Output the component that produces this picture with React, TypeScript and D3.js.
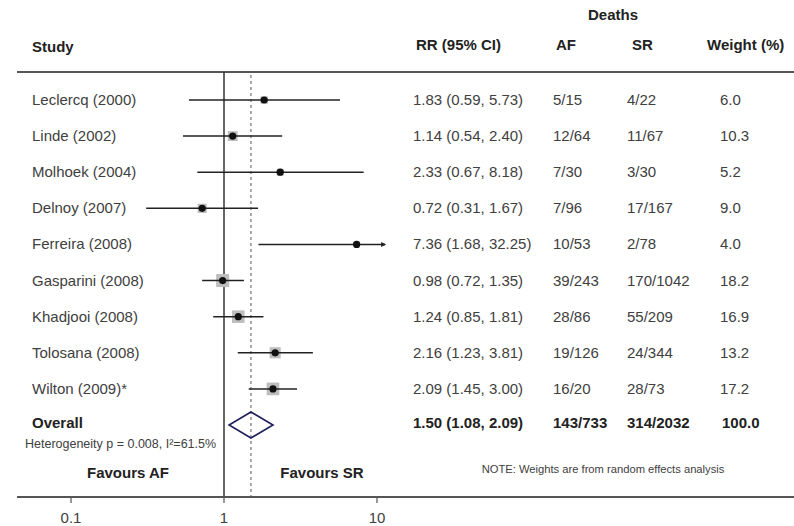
import React from "react";
import { scaleLog, scaleLinear, scaleSqrt } from "d3";

const studies = [
  "Leclercq (2000)",
  "Linde (2002)",
  "Molhoek (2004)",
  "Delnoy (2007)",
  "Ferreira (2008)",
  "Gasparini (2008)",
  "Khadjooi (2008)",
  "Tolosana (2008)",
  "Wilton (2009)*",
];
const rr = [1.83, 1.14, 2.33, 0.72, 7.36, 0.98, 1.24, 2.16, 2.09];
const lower = [0.59, 0.54, 0.67, 0.31, 1.68, 0.72, 0.85, 1.23, 1.45];
const upper = [5.73, 2.4, 8.18, 1.67, 32.25, 1.35, 1.81, 3.81, 3.0];
const deathsAF = ["5/15", "12/64", "7/30", "7/96", "10/53", "39/243", "28/86", "19/126", "16/20"];
const deathsSR = ["4/22", "11/67", "3/30", "17/167", "2/78", "170/1042", "55/209", "24/344", "28/73"];
const weights = [6.0, 10.3, 5.2, 9.0, 4.0, 18.2, 16.9, 13.2, 17.2];

const overall = { rr: 1.5, lower: 1.08, upper: 2.09, af: "143/733", sr: "314/2032", weight: 100.0 };
const heterogeneity = "Heterogeneity p = 0.008, I\u00B2=61.5%";
const tickValues = [0.1, 1, 10];
const plotMax = 11.3; // right edge where CIs are cut off

const font = "'Liberation Sans', Arial, sans-serif";
const textCol = "#404040";
const boldCol = "#222";
const fs = 15;

const fmt = (v: number) => v.toFixed(2);

export default function App() {
  const x = scaleLog().domain([0.1, 10]).range([71, 377]);
  const rows = [...studies, "Overall"];
  const y = scaleLinear().domain([0, rows.length - 1]).range([100, 425]);
  const side = scaleSqrt().domain([0, 18.2]).range([0, 13]);

  const axisY = 497;
  const topY = 72;

  return (
    <svg
      width={794}
      height={526}
      style={{ position: "absolute", left: 0, top: 0, background: "#fff" }}
      fontFamily={font}
    >
      {/* header */}
      <text x={613} y={20} textAnchor="middle" fontSize={fs} fontWeight="bold" fill={boldCol}>Deaths</text>
      <text x={32} y={52} fontSize={fs} fontWeight="bold" fill={boldCol}>Study</text>
      <text x={416} y={50} fontSize={fs} fontWeight="bold" fill={boldCol}>RR (95% CI)</text>
      <text x={556} y={50} fontSize={fs} fontWeight="bold" fill={boldCol}>AF</text>
      <text x={632} y={50} fontSize={fs} fontWeight="bold" fill={boldCol}>SR</text>
      <text x={707} y={50} fontSize={fs} fontWeight="bold" fill={boldCol}>Weight (%)</text>

      <line x1={17} x2={794} y1={topY} y2={topY} stroke="#555" strokeWidth={2} />

      {/* reference lines */}
      <line x1={x(1)} x2={x(1)} y1={topY} y2={axisY} stroke="#333" strokeWidth={1.5} />
      <line
        x1={x(overall.rr)}
        x2={x(overall.rr)}
        y1={topY + 3}
        y2={axisY}
        stroke="#555"
        strokeWidth={1}
        strokeDasharray="3,3"
      />

      {/* studies */}
      {studies.map((s, i) => {
        const cy = y(i);
        const hi = Math.min(upper[i], plotMax);
        const sz = side(weights[i]);
        return (
          <g key={s}>
            <text x={32} y={cy + 5} fontSize={fs} fill={textCol}>{s}</text>
            <rect x={x(rr[i]) - sz / 2} y={cy - sz / 2} width={sz} height={sz} fill="#bdbdbd" />
            <line x1={x(lower[i])} x2={x(hi)} y1={cy} y2={cy} stroke="#222" strokeWidth={1.5} />
            {upper[i] > plotMax && (
              <path d={`M${x(hi) + 1},${cy} l-5,-2.5 l0,5 z`} fill="#222" />
            )}
            <circle cx={x(rr[i])} cy={cy} r={3.6} fill="#111" />
            <text x={413} y={cy + 5} fontSize={fs} fill={textCol}>
              {`${fmt(rr[i])} (${fmt(lower[i])}, ${fmt(upper[i])})`}
            </text>
            <text x={553} y={cy + 5} fontSize={fs} fill={textCol}>{deathsAF[i]}</text>
            <text x={627} y={cy + 5} fontSize={fs} fill={textCol}>{deathsSR[i]}</text>
            <text x={720} y={cy + 5} fontSize={fs} fill={textCol}>{weights[i].toFixed(1)}</text>
          </g>
        );
      })}

      {/* overall */}
      {(() => {
        const cy = y(studies.length);
        const h = 13;
        return (
          <g>
            <text x={32} y={cy + 3} fontSize={fs} fontWeight="bold" fill={boldCol}>Overall</text>
            <path
              d={`M${x(overall.lower)},${cy} L${x(overall.rr)},${cy - h} L${x(overall.upper)},${cy} L${x(overall.rr)},${cy + h} Z`}
              fill="none"
              stroke="#1f1f5e"
              strokeWidth={1.6}
            />
            <text x={413} y={cy + 3} fontSize={fs} fontWeight="bold" fill={boldCol}>
              {`${fmt(overall.rr)} (${fmt(overall.lower)}, ${fmt(overall.upper)})`}
            </text>
            <text x={553} y={cy + 3} fontSize={fs} fontWeight="bold" fill={boldCol}>{overall.af}</text>
            <text x={627} y={cy + 3} fontSize={fs} fontWeight="bold" fill={boldCol}>{overall.sr}</text>
            <text x={722} y={cy + 3} fontSize={fs} fontWeight="bold" fill={boldCol}>{overall.weight.toFixed(1)}</text>
          </g>
        );
      })()}

      <text x={25} y={448} fontSize={12.5} fill={textCol}>{heterogeneity}</text>

      <text x={128} y={478} textAnchor="middle" fontSize={fs} fontWeight="bold" fill={boldCol}>Favours AF</text>
      <text x={322} y={478} textAnchor="middle" fontSize={fs} fontWeight="bold" fill={boldCol}>Favours SR</text>
      <text x={603} y={473} textAnchor="middle" fontSize={11.2} fill={textCol}>NOTE: Weights are from random effects analysis</text>

      {/* axis */}
      <line x1={17} x2={794} y1={axisY} y2={axisY} stroke="#555" strokeWidth={2} />
      {tickValues.map((t) => (
        <g key={t} transform={`translate(${x(t)},${axisY})`}>
          <line y1={0} y2={6} stroke="#555" strokeWidth={1.2} />
          <text y={26} textAnchor="middle" fontSize={fs} fill={textCol}>{String(t)}</text>
        </g>
      ))}
    </svg>
  );
}
